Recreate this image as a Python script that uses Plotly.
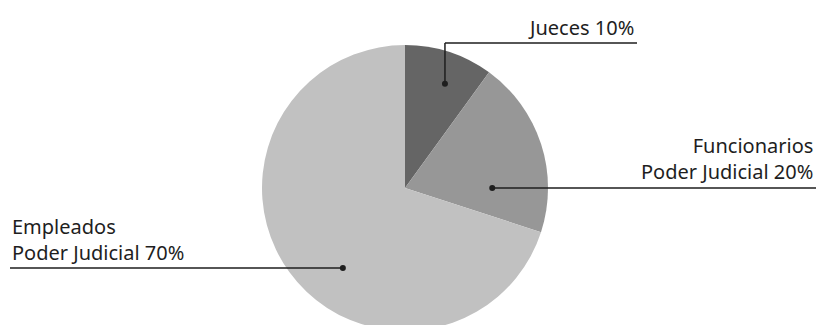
import math
import plotly.graph_objects as go

# ---- data ----
categories = ["Jueces", "Funcionarios<br>Poder Judicial", "Empleados<br>Poder Judicial"]
values = [10, 20, 70]
colors = ["#656565", "#979797", "#c1c1c1"]

# ---- layout constants (pixels, page coordinates) ----
W, H = 824, 325
OFF = 8  # page body margin offset
CX, CY, R = 405, 188, 143
FONT = dict(family="Noto Sans, Open Sans, sans-serif", size=20, color="#1e1e1e")
LINE_COLOR = "#1e1e1e"

# position of each leader dot inside its slice: (fraction along slice, fraction of radius)
dot_pos = [(0.583, 0.78), (0.75, 0.61), (0.436, 0.708)]


def fx(px):
    return px - OFF


def fy(py):
    return py - OFF


total = sum(values)
fig = go.Figure()

fig.add_trace(go.Pie(
    labels=[c.replace("<br>", " ") for c in categories],
    values=values,
    marker=dict(colors=colors, line=dict(width=0)),
    sort=False,
    direction="clockwise",
    rotation=0,
    textinfo="none",
    hoverinfo="label+percent",
    showlegend=False,
    domain=dict(x=[fx(CX - R) / W, fx(CX + R) / W],
                y=[max(0, 1 - fy(CY + R) / H), 1 - fy(CY - R) / H]),
))

# dot positions from slice angles
dots = []
cum = 0
for v, (t, rf) in zip(values, dot_pos):
    a0 = cum / total * 360
    a1 = (cum + v) / total * 360
    ang = math.radians(a0 + t * (a1 - a0))
    dots.append((CX + rf * R * math.sin(ang), CY - rf * R * math.cos(ang)))
    cum += v

pcts = [round(v / total * 100) for v in values]

# leader lines (page coords)
JUECES_LINE_Y, JUECES_LINE_END = 43, 637
segments = [
    (dots[0][0], dots[0][1], dots[0][0], JUECES_LINE_Y),
    (dots[0][0], JUECES_LINE_Y, JUECES_LINE_END, JUECES_LINE_Y),
    (dots[1][0], dots[1][1], W + OFF, dots[1][1]),
    (dots[2][0], dots[2][1], 10, dots[2][1]),
]
for x0, y0, x1, y1 in segments:
    fig.add_shape(type="line", xref="x", yref="y", x0=fx(x0), y0=fy(y0), x1=fx(x1), y1=fy(y1),
                  line=dict(color=LINE_COLOR, width=1.5), layer="above")

DOT_R = 3
for dx, dy in dots:
    fig.add_shape(type="circle", xref="x", yref="y",
                  x0=fx(dx) - DOT_R, x1=fx(dx) + DOT_R, y0=fy(dy) - DOT_R, y1=fy(dy) + DOT_R,
                  fillcolor=LINE_COLOR, line=dict(width=0), layer="above")

# labels: (anchor x, block middle y, xanchor)
label_specs = [
    (636, 27, "right"),
    (815, 158, "right"),
    (10, 239, "left"),
]
for cat, p, (lx, ly, xa) in zip(categories, pcts, label_specs):
    fig.add_annotation(text=f"{cat} {p}%", xref="x", yref="y", showarrow=False,
                       x=fx(lx), y=fy(ly), xanchor=xa, yanchor="middle", align=xa, font=FONT)

fig.update_layout(
    width=W, height=H,
    margin=dict(l=0, r=0, t=0, b=0),
    paper_bgcolor="white", plot_bgcolor="rgba(0,0,0,0)",
    xaxis=dict(range=[0, W], visible=False, fixedrange=True),
    yaxis=dict(range=[H, 0], visible=False, fixedrange=True),
)

fig.write_html("out.html")
